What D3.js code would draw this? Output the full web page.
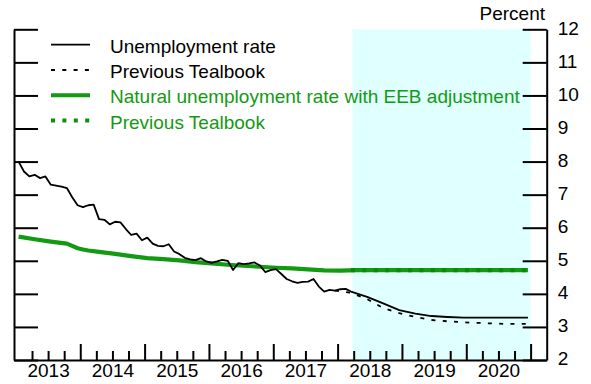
<!DOCTYPE html>
<html>
<head>
<meta charset="utf-8">
<script src="https://cdn.jsdelivr.net/npm/d3@7"></script>
<style>
  body { margin: 0; background: #fff; }
  svg { display: block; }
  text { font-family: "Liberation Sans", Arial, sans-serif; }
</style>
</head>
<body>
<svg id="chart" width="591" height="384"></svg>
<script>
// Unemployment rate, monthly history from Jan 2013 through Mar 2018
const urHistoryStart = "2013-01";
const urHistory = [
  8.0, 7.7, 7.55, 7.6, 7.5, 7.55, 7.3, 7.27, 7.24, 7.2, 6.92, 6.68,
  6.62, 6.68, 6.7, 6.26, 6.24, 6.1, 6.18, 6.16, 5.96, 5.78, 5.82, 5.62,
  5.7, 5.52, 5.45, 5.44, 5.5, 5.28, 5.2, 5.09, 5.04, 5.02, 5.08, 4.98,
  4.94, 4.98, 5.03, 5.0, 4.72, 4.93, 4.9, 4.92, 4.95, 4.86, 4.66, 4.72,
  4.75, 4.6, 4.45, 4.38, 4.33, 4.36, 4.37, 4.45, 4.22, 4.07, 4.12, 4.1,
  4.14, 4.15, 4.07
];

// Staff projection of the unemployment rate (quarter-end months)
const urForecastMonths = ["2018-03", "2018-06", "2018-09", "2018-12", "2019-03", "2019-06",
  "2019-09", "2019-12", "2020-03", "2020-06", "2020-09", "2020-12"];
const urForecast = [4.07, 3.91, 3.71, 3.51, 3.4, 3.33, 3.3, 3.28, 3.28, 3.28, 3.28, 3.28];

// Unemployment rate, previous Tealbook projection
const urPrevMonths = ["2017-12", "2018-03", "2018-06", "2018-09", "2018-12", "2019-03", "2019-06",
  "2019-09", "2019-12", "2020-03", "2020-06", "2020-09", "2020-12"];
const urPrev = [4.1, 4.03, 3.84, 3.57, 3.42, 3.3, 3.21, 3.17, 3.14, 3.12, 3.1, 3.09, 3.09];

// Natural rate of unemployment with EEB adjustment
const nairuMonths = ["2013-01", "2013-04", "2013-07", "2013-10", "2013-11", "2013-12", "2014-01",
  "2014-02", "2014-04", "2014-07", "2014-10", "2015-01", "2015-04", "2015-07", "2015-10",
  "2016-01", "2016-04", "2016-07", "2016-10", "2017-01", "2017-04", "2017-07", "2017-10",
  "2018-01", "2018-04", "2018-12", "2019-12", "2020-12"];
const nairu = [5.73, 5.65, 5.58, 5.52, 5.45, 5.38, 5.34, 5.31, 5.27, 5.21, 5.14, 5.08, 5.05,
  5.01, 4.96, 4.92, 4.88, 4.85, 4.82, 4.79, 4.77, 4.74, 4.71, 4.7, 4.72, 4.72, 4.72, 4.72];

// Natural rate, previous Tealbook
const nairuPrevMonths = ["2018-03", "2018-12", "2019-12", "2020-12"];
const nairuPrev = [4.72, 4.72, 4.72, 4.72];

// Projection period shading
const shadeStart = 2018.23;
const shadeEnd = 2021.0;

const yTicks = [2, 3, 4, 5, 6, 7, 8, 9, 10, 11, 12];
const yearLabels = [2013, 2014, 2015, 2016, 2017, 2018, 2019, 2020];

const legendItems = [
  { label: "Unemployment rate", color: "#000", width: 1.8, dash: null, textColor: "#000" },
  { label: "Previous Tealbook", color: "#000", width: 1.8, dash: "4,7.3", textColor: "#000" },
  { label: "Natural unemployment rate with EEB adjustment", color: "#139a13", width: 4, dash: null, textColor: "#139a13" },
  { label: "Previous Tealbook", color: "#0a900a", width: 4, dash: "4,7.4", textColor: "#139a13" }
];

// "YYYY-MM" -> decimal year at the middle of the month
function monthToYear(s) {
  const [yr, m] = s.split("-").map(Number);
  return yr + (m - 1 + 0.5) / 12;
}
function seriesFrom(months, values) {
  return months.map((m, i) => ({ t: monthToYear(m), v: values[i] }));
}

const histStartYear = monthToYear(urHistoryStart);
const history = urHistory.map((v, i) => ({ t: histStartYear + i / 12, v }));
const forecast = seriesFrom(urForecastMonths, urForecast);
const prev = seriesFrom(urPrevMonths, urPrev);
const nat = seriesFrom(nairuMonths, nairu);
const natPrev = seriesFrom(nairuPrevMonths, nairuPrev);

const svg = d3.select("#chart");
const plotL = 14, plotR = 546.7, plotT = 29.3, plotB = 360;

const x = d3.scaleLinear().domain([2012.97, 2021.25]).range([plotL, plotR]);
const y = d3.scaleLinear().domain([2, 12]).range([plotB, plotT]);

// Shaded projection period
svg.append("rect")
  .attr("x", x(shadeStart))
  .attr("y", y(12))
  .attr("width", x(shadeEnd) - x(shadeStart))
  .attr("height", y(2) - y(12))
  .attr("fill", "#e0ffff");

const line = d3.line().x(d => x(d.t)).y(d => y(d.v));

// Natural rate lines
svg.append("path").datum(nat)
  .attr("d", line).attr("fill", "none")
  .attr("stroke", "#139a13").attr("stroke-width", 4.2).attr("stroke-linejoin", "round");
svg.append("path").datum(natPrev)
  .attr("d", line).attr("fill", "none")
  .attr("stroke", "#0a880a").attr("stroke-width", 4.2).attr("stroke-dasharray", "4,7.4");

// Unemployment rate lines
svg.append("path").datum(prev)
  .attr("d", line).attr("fill", "none")
  .attr("stroke", "#000").attr("stroke-width", 1.8).attr("stroke-dasharray", "4,7.3");
svg.append("path").datum(history.concat(forecast.slice(1)))
  .attr("d", line).attr("fill", "none")
  .attr("stroke", "#000").attr("stroke-width", 1.8).attr("stroke-linejoin", "round");

const axisFont = g => g.selectAll("text")
  .attr("fill", "#000")
  .style("font-size", "19px")
  .style("font-family", "'Liberation Sans', Arial, sans-serif");

// Left axis: inward ticks, no labels
svg.append("g")
  .attr("transform", `translate(${plotL},0)`)
  .call(d3.axisRight(y).tickValues(yTicks).tickSizeInner(24).tickSizeOuter(0).tickFormat(""))
  .call(g => g.selectAll("line,path").attr("stroke", "#000").attr("stroke-width", 2));

// Right axis: inward ticks, labels outside
svg.append("g")
  .attr("transform", `translate(${plotR},0)`)
  .call(d3.axisRight(y).tickValues(yTicks).tickSizeInner(-24).tickSizeOuter(0).tickPadding(11))
  .call(g => g.selectAll("line,path").attr("stroke", "#000").attr("stroke-width", 2))
  .call(axisFont)
  .call(g => g.selectAll("text").attr("dy", "0.25em"));

// Bottom axis: quarterly minor ticks and yearly major ticks
const quarterTicks = d3.range(2013, 2021.26, 0.25).filter(t => x(t) > plotL + 3 && x(t) < plotR - 3);
const majorTicks = quarterTicks.filter(t => Math.abs(t - Math.round(t)) < 1e-6);
const minorTicks = quarterTicks.filter(t => Math.abs(t - Math.round(t)) >= 1e-6);

svg.append("g")
  .attr("transform", `translate(0,${plotB})`)
  .call(d3.axisBottom(x).tickValues(minorTicks).tickSizeInner(-9).tickSizeOuter(0).tickFormat(""))
  .call(g => g.selectAll("line,path").attr("stroke", "#000").attr("stroke-width", 2));
svg.append("g")
  .attr("transform", `translate(0,${plotB})`)
  .call(d3.axisBottom(x).tickValues(majorTicks).tickSizeInner(-16).tickSizeOuter(0).tickFormat(""))
  .call(g => g.select(".domain").remove())
  .call(g => g.selectAll("line").attr("stroke", "#000").attr("stroke-width", 2));

// Year labels centred on each year
svg.append("g")
  .attr("transform", `translate(0,${plotB})`)
  .call(d3.axisBottom(x).tickValues(yearLabels.map(yr => yr + 0.5)).tickSize(0).tickPadding(3)
    .tickFormat(v => String(Math.floor(v))))
  .call(g => g.select(".domain").remove())
  .call(axisFont);

// Unit label
svg.append("text")
  .attr("x", 545).attr("y", 20)
  .attr("text-anchor", "end")
  .style("font-size", "19px")
  .attr("fill", "#000")
  .text("Percent");

// Legend
const legend = svg.append("g");
legendItems.forEach((item, i) => {
  const base = 52.6 + i * 25.3;
  const ly = base - 7.9;
  legend.append("line")
    .attr("x1", 51).attr("x2", 90).attr("y1", ly).attr("y2", ly)
    .attr("stroke", item.color).attr("stroke-width", item.width)
    .attr("stroke-dasharray", item.dash);
  legend.append("text")
    .attr("x", 110).attr("y", base)
    .attr("fill", item.textColor)
    .style("font-size", "19px")
    .text(item.label);
});
</script>
</body>
</html>
